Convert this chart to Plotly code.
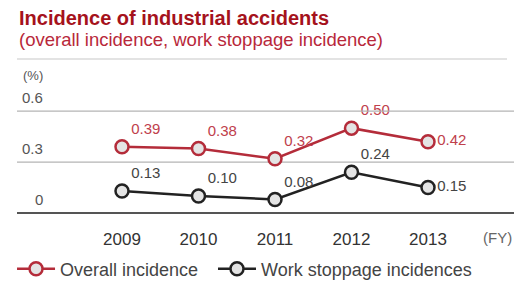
import plotly.graph_objects as go

years = ["2009", "2010", "2011", "2012", "2013"]
overall = [0.39, 0.38, 0.32, 0.50, 0.42]
stoppage = [0.13, 0.10, 0.08, 0.24, 0.15]
overall_labels = ["0.39", "0.38", "0.32", "0.50", "0.42"]
stoppage_labels = ["0.13", "0.10", "0.08", "0.24", "0.15"]
y_ticks = [0, 0.3, 0.6]
y_tick_labels = ["0", "0.3", "0.6"]

FONT = "Liberation Sans, Arial, sans-serif"
RED = "#b42c3a"
DARK = "#222222"

W, H = 531, 289
ML, MR, MT, MB = 17, 17, 101, 76
pw = W - ML - MR
ph = H - MT - MB
YMAX = 0.66

xs = list(range(len(years)))

fig = go.Figure()
fig.add_trace(go.Scatter(
    x=xs, y=overall, name="Overall incidence", mode="lines+markers+text",
    line=dict(color=RED, width=2.5),
    marker=dict(size=13, color="#e4e4e4", line=dict(color=RED, width=2.5)),
    text=overall_labels, cliponaxis=False,
    textposition=["top right"] * 4 + ["middle right"],
    textfont=dict(family=FONT, size=15, color="#c0404c"),
    legend="legend",
))
fig.add_trace(go.Scatter(
    x=xs, y=stoppage, name="Work stoppage incidences", mode="lines+markers+text",
    line=dict(color=DARK, width=2.5),
    marker=dict(size=13, color="#e4e4e4", line=dict(color=DARK, width=2.5)),
    text=stoppage_labels, cliponaxis=False,
    textposition=["top right"] * 4 + ["middle right"],
    textfont=dict(family=FONT, size=15, color="#444444"),
    legend="legend2",
))

x0 = 122
dx = 76.5
xr = [(ML - x0) / dx, (W - MR - x0) / dx]

def py(pix):
    return (MT + ph - pix) / ph

annotations = []
for v, t in zip(y_ticks, y_tick_labels):
    annotations.append(dict(x=(45 - ML) / pw, xref="paper", y=v, yref="y",
                            text=t, showarrow=False, xanchor="right", yanchor="middle",
                            yshift=14, font=dict(family=FONT, size=15, color="#555555")))
annotations.append(dict(x=(21 - ML) / pw, xref="paper", y=py(75), yref="paper",
                        text="(%)", showarrow=False, xanchor="left", yanchor="middle",
                        font=dict(family=FONT, size=13, color="#555555")))
annotations.append(dict(x=(481 - ML) / pw, xref="paper", y=py(237), yref="paper",
                        text="(FY)", showarrow=False, xanchor="left", yanchor="middle",
                        font=dict(family=FONT, size=15, color="#666666")))
annotations.append(dict(x=0, xref="paper", y=py(18), yref="paper",
                        text="<b>Incidence of industrial accidents</b>", showarrow=False,
                        xanchor="left", yanchor="middle",
                        font=dict(family=FONT, size=20, color="#a5121c")))
annotations.append(dict(x=0, xref="paper", y=py(39), yref="paper",
                        text="(overall incidence, work stoppage incidence)", showarrow=False,
                        xanchor="left", yanchor="middle",
                        font=dict(family=FONT, size=18.5, color="#b8283a")))

shapes = [dict(type="line", xref="paper", yref="paper", x0=0, x1=(507 - ML) / pw,
               y0=py(59), y1=py(59), line=dict(color="#c8c8c8", width=1.2))]
for v in y_ticks:
    if v > 0:
        shapes.append(dict(type="line", xref="paper", yref="y", x0=0, x1=1, y0=v, y1=v,
                           layer="above" if v >= 0.6 else "below",
                           line=dict(color="#b4b4b4", width=1.3)))

legend_common = dict(orientation="h", xanchor="left", yref="container",
                     y=1 - 269 / H, yanchor="middle",
                     font=dict(family=FONT, size=18, color="#444444"),
                     itemwidth=38, bgcolor="rgba(0,0,0,0)")

fig.update_layout(
    width=W, height=H,
    margin=dict(l=ML, r=MR, t=MT, b=MB, autoexpand=False),
    paper_bgcolor="white", plot_bgcolor="white",
    showlegend=True,
    legend=dict(x=-0.01, **legend_common),
    legend2=dict(x=(212 - ML) / pw + 0.002, **legend_common),
    xaxis=dict(range=xr, tickvals=xs, ticktext=years, showgrid=False, zeroline=False,
               showline=False, ticks="", tickfont=dict(family=FONT, size=17, color="#333333"),
               tickprefix="<b>", ticksuffix="</b>", ticklabelstandoff=14,
               automargin=False, fixedrange=True),
    yaxis=dict(range=[0, YMAX], tickvals=y_ticks, showticklabels=False, showgrid=False,
               zeroline=True, zerolinecolor="#555555",
               zerolinewidth=1.5, showline=False, automargin=False, fixedrange=True),
    annotations=annotations, shapes=shapes,
)

fig.write_html("out.html")
